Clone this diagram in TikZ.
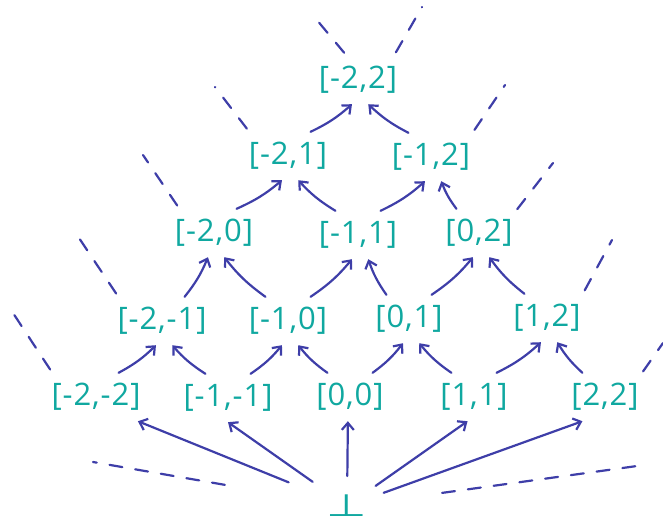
\documentclass[tikz,border=0pt]{standalone}
\usepackage{fontspec}
\usepackage{graphicx}
\newfontfamily\handfont[LetterSpace=3]{Open Sans}
\newfontfamily\symfont{DejaVu Sans}
\usetikzlibrary{arrows.meta}
\definecolor{tealink}{RGB}{16,168,160}
\definecolor{blueink}{RGB}{62,62,168}

\begin{document}
\begin{tikzpicture}[x=1pt,y=-1pt]
\tikzset{
  ivnode/.style={text=tealink,font=\handfont\fontsize{31}{34}\selectfont,minimum height=48pt,inner sep=2pt},
  botnode/.style={text=tealink,font=\symfont\fontsize{31}{31}\selectfont,inner sep=1pt},
  inkedge/.style={draw=blueink,line width=2.2pt,line cap=round,line join=round},
  directed/.style={inkedge,-{Straight Barb[length=7pt,width=12pt]}},
  upleft/.style={directed,bend left=8},
  upright/.style={directed,bend right=8},
  openend/.style={inkedge,dash pattern=on 13pt off 13pt,shorten <=4pt}
}
\useasboundingbox (0,0) rectangle (663,525);
\node[ivnode] (n_m2_2) at (358,80) {[-2,2]};
\node[ivnode] (n_m2_1) at (288,156) {[-2,1]};
\node[ivnode] (n_m1_2) at (431,157) {[-1,2]};
\node[ivnode] (n_m2_0) at (214,233) {[-2,0]};
\node[ivnode] (n_m1_1) at (358,235) {[-1,1]};
\node[ivnode] (n_0_2) at (479,233) {[0,2]};
\node[ivnode] (n_m2_m1) at (162,321) {[-2,-1]};
\node[ivnode] (n_m1_0) at (288,321) {[-1,0]};
\node[ivnode] (n_0_1) at (409,319) {[0,1]};
\node[ivnode] (n_1_2) at (547,318) {[1,2]};
\node[ivnode] (n_m2_m2) at (96,397) {[-2,-2]};
\node[ivnode] (n_m1_m1) at (228,398) {[-1,-1]};
\node[ivnode] (n_0_0) at (350,397) {[0,0]};
\node[ivnode] (n_1_1) at (474,397) {[1,1]};
\node[ivnode] (n_2_2) at (605,397) {[2,2]};
\node[botnode] (n_bot) at (347,506) {\scalebox{1.5}[1]{⊥}};
% loose ends of the dashed lines
\coordinate (e_m2_2_l) at (311,13);
\coordinate (e_m2_2_r) at (422,7);
\coordinate (e_m2_1_l) at (215,87);
\coordinate (e_m1_2_r) at (505,85);
\coordinate (e_m2_0_l) at (143,155);
\coordinate (e_0_2_r) at (553,163);
\coordinate (e_m2_m1_l) at (75,232);
\coordinate (e_1_2_r) at (612,240);
\coordinate (e_m2_m2_l) at (13,313);
\coordinate (e_2_2_r) at (663,343);
\coordinate (e_bot_l) at (93,462);
\coordinate (e_bot_r) at (637,466);
% bottom row up to the second row
\draw[upright] (n_m2_m2.47) to (n_m2_m1.-104);
\draw[upleft] (n_m1_m1.133) to (n_m2_m1.-67);
\draw[upright] (n_m1_m1.47) to (n_m1_0.-104);
\draw[upleft] (n_0_0.133) to (n_m1_0.-67);
\draw[upright] (n_0_0.47) to (n_0_1.-104);
\draw[upleft] (n_1_1.133) to (n_0_1.-67);
\draw[upright] (n_1_1.47) to (n_1_2.-104);
\draw[upleft] (n_2_2.133) to (n_1_2.-67);
% second row up to the third row
\draw[upright] (n_m2_m1.47) to (n_m2_0.-104);
\draw[upleft] (n_m1_0.133) to (n_m2_0.-67);
\draw[upright] (n_m1_0.47) to (n_m1_1.-104);
\draw[upleft] (n_0_1.133) to (n_m1_1.-67);
\draw[upright] (n_0_1.47) to (n_0_2.-104);
\draw[upleft] (n_1_2.133) to (n_0_2.-67);
% third row up to the fourth row
\draw[upright] (n_m2_0.47) to (n_m2_1.-104);
\draw[upleft] (n_m1_1.133) to (n_m2_1.-67);
\draw[upright] (n_m1_1.47) to (n_m1_2.-104);
\draw[upleft] (n_0_2.133) to (n_m1_2.-67);
% fourth row up to the top
\draw[upright] (n_m2_1.47) to (n_m2_2.-104);
\draw[upleft] (n_m1_2.133) to (n_m2_2.-67);
% bottom element
\draw[directed,shorten <=63pt] (n_bot.center) -- (n_m2_m2.-30);
\draw[directed,shorten <=42pt] (n_bot.center) -- (n_m1_m1.south);
\draw[directed,shorten <=30pt] (n_bot.center) -- (n_0_0.-95);
\draw[directed,shorten <=35pt] (n_bot.center) -- (n_1_1.-105);
\draw[directed,shorten <=39pt] (n_bot.center) -- (n_2_2.-133);
% dashed lines running off the picture
\draw[openend] (n_m2_2.115) -- (e_m2_2_l);
\draw[openend] (n_m2_2.34) -- (e_m2_2_r);
\draw[openend] (n_m2_1.148) -- (e_m2_1_l);
\draw[openend] (n_m1_2.30) -- (e_m1_2_r);
\draw[openend] (n_m2_0.145) -- (e_m2_0_l);
\draw[openend] (n_0_2.30) -- (e_0_2_r);
\draw[openend] (n_m2_m1.151) -- (e_m2_m1_l);
\draw[openend] (n_1_2.34) -- (e_1_2_r);
\draw[openend] (n_m2_m2.151) -- (e_m2_m2_l);
\draw[openend] (n_2_2.32) -- (e_2_2_r);
\draw[openend,shorten <=124pt] (n_bot.center) -- (e_bot_l);
\draw[openend,shorten <=96pt] (n_bot.center) -- (e_bot_r);
\end{tikzpicture}
\end{document}
